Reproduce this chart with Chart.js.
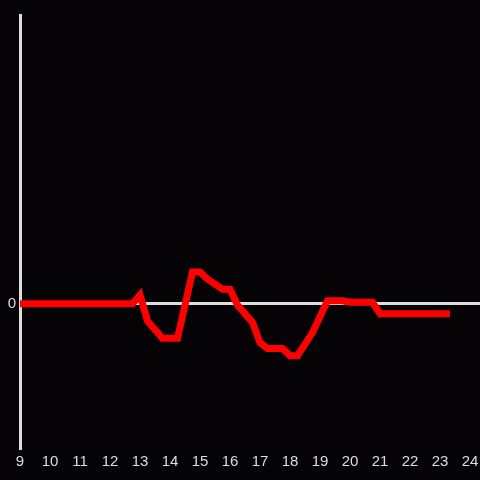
<!DOCTYPE html>
<html>
<head>
<meta charset="utf-8">
<script src="https://cdn.jsdelivr.net/npm/chart.js@4"></script>
<style>
  html, body { margin: 0; padding: 0; background: #050306; }
  #wrap { width: 480px; height: 480px; }
</style>
</head>
<body>
<div id="wrap"><canvas id="chart"></canvas></div>
<script>
// hours of day and the series value at each
const hours = [9, 12.75, 13, 13.25, 13.75, 14.25, 14.75, 15, 15.25, 15.75, 16, 16.25, 16.75, 17, 17.25, 17.75, 18, 18.25, 18.75, 19.25, 19.75, 20, 20.75, 21, 23.33];
const values = [0, 0, 0.06, -0.12, -0.24, -0.24, 0.22, 0.22, 0.17, 0.10, 0.10, -0.01, -0.13, -0.27, -0.31, -0.31, -0.36, -0.36, -0.2, 0.02, 0.02, 0.01, 0.01, -0.07, -0.07];
const xTicks = [9, 10, 11, 12, 13, 14, 15, 16, 17, 18, 19, 20, 21, 22, 23, 24];
const yTicks = [0];

const axisColor = '#dddddd';

const bgPlugin = {
    id: 'bg',
    beforeDraw(chart) {
        const c = chart.ctx;
        c.save();
        c.fillStyle = '#050306';
        c.fillRect(0, 0, chart.width, chart.height);
        c.restore();
    }
};

new Chart(document.getElementById('chart').getContext('2d'), {
    type: 'line',
    data: {
        datasets: [{
            data: hours.map((h, i) => ({ x: h, y: values[i] })),
            borderColor: '#ff0000',
            borderWidth: 7,
            pointRadius: 0,
            tension: 0,
            fill: false
        }]
    },
    options: {
        responsive: true,
        maintainAspectRatio: false,
        animation: false,
        layout: { padding: { top: 15, right: 0, left: 0, bottom: 0 } },
        scales: {
            x: {
                type: 'linear',
                min: 9, max: 24 + 1 / 3,
                afterBuildTicks: axis => { axis.ticks = xTicks.map(v => ({ value: v })); },
                grid: { display: false, drawTicks: false },
                border: { display: false },
                ticks: {
                    color: axisColor,
                    padding: 5,
                    maxRotation: 0,
                    autoSkip: false,
                    font: { family: 'Liberation Sans', size: 15 }
                },
                afterFit: axis => {
                    axis.height = 32;
                    axis.paddingLeft = 0;
                    axis.paddingRight = 0;
                }
            },
            y: {
                min: -1, max: 2,
                afterBuildTicks: axis => { axis.ticks = yTicks.map(v => ({ value: v })); },
                grid: { color: axisColor, lineWidth: 3, drawTicks: false },
                border: { display: true, color: axisColor, width: 3 },
                ticks: {
                    color: axisColor,
                    padding: 4,
                    font: { family: 'Liberation Sans', size: 15 }
                },
                afterFit: axis => { axis.width = 20; }
            }
        },
        plugins: { legend: { display: false }, tooltip: { enabled: false } }
    },
    plugins: [bgPlugin]
});
</script>
</body>
</html>
